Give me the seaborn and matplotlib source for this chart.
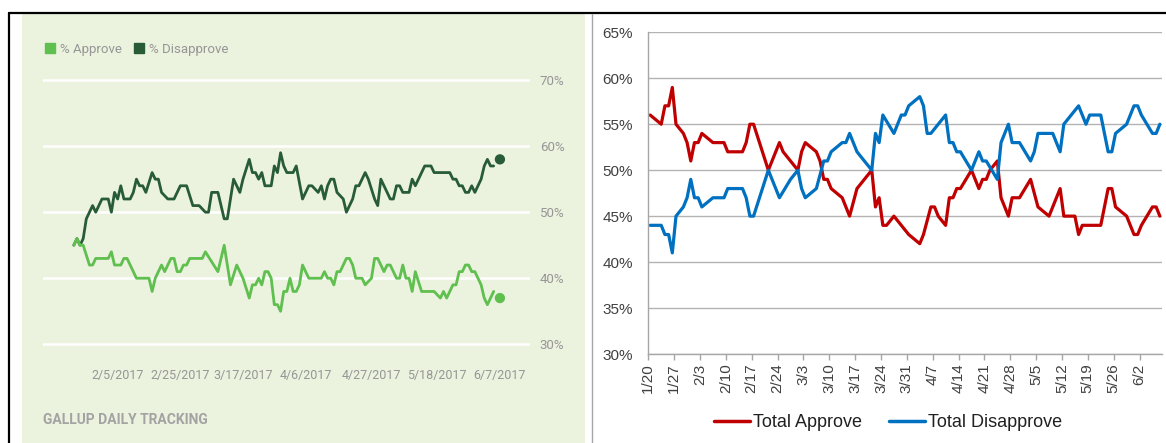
import matplotlib
matplotlib.use("Agg")
import matplotlib.pyplot as plt
from matplotlib import font_manager
from matplotlib.lines import Line2D
from matplotlib.patches import Rectangle
import pandas as pd
import seaborn as sns

# ---- left panel: Gallup daily tracking (days since 1/22/2017) ----
gallup_start = "2017-01-22"
g_approve_day = [0, 1, 2, 3, 5, 6, 7, 11, 12, 13, 15, 16, 17, 20, 24, 25, 26, 28, 29, 31,
                 32, 33, 34, 35, 36, 37, 41, 42, 46, 48, 50, 52, 54, 56, 57, 58, 59, 60, 61, 62,
                 63, 64, 65, 66, 67, 68, 69, 70, 71, 72, 73, 75, 79, 80, 81, 82, 83, 84, 85, 87,
                 88, 89, 90, 92, 93, 95, 96, 97, 99, 100, 101, 103, 104, 105, 106, 107, 108, 109, 111, 115,
                 117, 118, 119, 121, 122, 123, 124, 125, 126, 127, 128, 130, 131, 132, 134]
g_approve = [45, 46, 45, 45, 42, 42, 43, 43, 44, 42, 42, 43, 43, 40, 40, 38, 40, 42, 41, 43,
             43, 41, 41, 42, 42, 43, 43, 44, 41, 45, 39, 42, 40, 37, 39, 39, 40, 39, 41, 41,
             40, 36, 36, 35, 38, 38, 40, 38, 38, 39, 42, 40, 40, 41, 40, 40, 39, 41, 41, 43,
             43, 42, 40, 40, 39, 40, 43, 43, 41, 42, 42, 40, 40, 42, 40, 40, 38, 41, 38, 38,
             37, 38, 37, 39, 39, 41, 41, 42, 42, 41, 41, 39, 37, 36, 38]
g_disapprove_day = [0, 1, 2, 3, 4, 5, 6, 7, 9, 11, 12, 13, 14, 15, 16, 18, 19, 20, 21, 22,
                    23, 25, 26, 27, 28, 30, 32, 34, 36, 38, 40, 42, 43, 44, 46, 47, 48, 49, 51, 53,
                    54, 56, 57, 58, 59, 60, 61, 63, 64, 65, 66, 67, 68, 70, 71, 73, 75, 76, 78, 79,
                    80, 81, 82, 83, 84, 86, 87, 88, 89, 90, 91, 93, 94, 96, 97, 98, 100, 101, 102, 103,
                    104, 105, 107, 108, 109, 110, 112, 114, 115, 120, 121, 122, 123, 124, 125, 126, 127, 128, 130, 131,
                    132, 133, 134]
g_disapprove = [45, 46, 45, 46, 49, 50, 51, 50, 52, 52, 50, 53, 52, 54, 52, 52, 53, 55, 54, 54,
                53, 56, 55, 55, 53, 52, 52, 54, 54, 51, 51, 50, 50, 53, 53, 51, 49, 49, 55, 53,
                55, 58, 56, 56, 55, 56, 54, 54, 57, 56, 59, 57, 56, 56, 57, 52, 54, 54, 53, 54,
                52, 54, 55, 55, 53, 52, 50, 51, 52, 54, 54, 56, 55, 52, 51, 55, 53, 52, 52, 54,
                54, 53, 53, 55, 54, 55, 57, 57, 56, 56, 55, 55, 54, 54, 53, 53, 54, 53, 55, 57,
                58, 57, 57]
g_last_day = 136          # 6/7/2017, shown as a dot
g_last_approve = 37
g_last_disapprove = 58
g_xticks = ["2017-02-05", "2017-02-25", "2017-03-17", "2017-04-06",
            "2017-04-27", "2017-05-18", "2017-06-07"]

# ---- right panel: Total Approve / Disapprove (days since 1/20/2017) ----
r_start = "2017-01-20"
r_approve_day = [0, 3, 4, 5, 6, 7, 9, 10, 11, 12, 13, 14, 17, 20, 21, 25, 26, 27, 28, 32,
                 35, 36, 38, 40, 41, 42, 45, 46, 47, 48, 49, 52, 54, 56, 58, 60, 61, 62, 63, 64,
                 66, 68, 70, 73, 74, 76, 77, 78, 80, 81, 82, 83, 84, 87, 89, 90, 91, 92, 94, 95,
                 97, 98, 100, 103, 105, 108, 111, 112, 115, 116, 117, 122, 124, 125, 126, 129, 131, 132, 133, 136,
                 137, 138]
r_approve = [56, 55, 57, 57, 59, 55, 54, 53, 51, 53, 53, 54, 53, 53, 52, 52, 53, 55, 55, 50,
             53, 52, 51, 50, 52, 53, 52, 51, 49, 49, 48, 47, 45, 48, 49, 50, 46, 47, 44, 44,
             45, 44, 43, 42, 43, 46, 46, 45, 44, 47, 47, 48, 48, 50, 48, 49, 49, 50, 51, 47,
             45, 47, 47, 49, 46, 45, 48, 45, 45, 43, 44, 44, 48, 48, 46, 45, 43, 43, 44, 46,
             46, 45]
r_disapprove_day = [0, 3, 4, 5, 6, 7, 9, 10, 11, 12, 13, 14, 17, 20, 21, 25, 26, 27, 28, 32,
                    35, 38, 40, 41, 42, 45, 47, 48, 49, 52, 53, 54, 56, 60, 61, 62, 63, 66, 68, 69,
                    70, 73, 74, 75, 76, 80, 81, 82, 83, 84, 87, 89, 90, 91, 94, 95, 97, 98, 100, 103,
                    104, 105, 109, 111, 112, 114, 116, 118, 119, 122, 124, 125, 126, 129, 131, 132, 133, 136, 137, 138]
r_disapprove = [44, 44, 43, 43, 41, 45, 46, 47, 49, 47, 47, 46, 47, 47, 48, 48, 47, 45, 45, 50,
                47, 49, 50, 48, 47, 48, 51, 51, 52, 53, 53, 54, 52, 50, 54, 53, 56, 54, 56, 56,
                57, 58, 57, 54, 54, 56, 53, 53, 52, 52, 50, 52, 51, 51, 49, 53, 55, 53, 53, 51,
                52, 54, 54, 52, 55, 56, 57, 55, 56, 56, 52, 52, 54, 55, 57, 57, 56, 54, 54, 55]

W, H = 1166, 443
LIGHT, DARK = "#5fbf4f", "#275c36"
RED, BLUE = "#c00000", "#0070c0"
GRAY_TXT = "#969696"


def box(x0, y0, x1, y1):
    # pixel box with top-left origin -> figure fraction rect
    return [x0 / W, 1 - y1 / H, (x1 - x0) / W, (y1 - y0) / H]


def dated(start, days, vals, col, shift=0.0):
    d = pd.Timestamp(start) + pd.to_timedelta(pd.Series(days) + shift, unit="D")
    return pd.DataFrame({"date": d, col: vals})


sns.set_style("white")
plt.rcParams["font.family"] = ["Liberation Sans", "DejaVu Sans"]

# Gallup uses a condensed face; use a narrow one when it is installed
installed = {f.name for f in font_manager.fontManager.ttflist}
if "Liberation Sans Narrow" in installed:
    NARROW, g_size, leg_size, foot_size = "Liberation Sans Narrow", 10.5, 10, 10.5
else:
    NARROW, g_size, leg_size, foot_size = "Roboto", 9, 9.5, 10

fig = plt.figure(figsize=(W / 100, H / 100), dpi=100)

# page background, frames
bg = fig.add_axes([0, 0, 1, 1])
bg.set_xlim(0, W)
bg.set_ylim(H, 0)
bg.axis("off")
bg.add_patch(Rectangle((22, 14), 563, 430, color="#ebf2de", lw=0))
bg.plot([9, 9], [13, H], color="black", lw=1.6)
bg.plot([9, W], [13, 13], color="black", lw=1.6)
bg.plot([591.5, 591.5], [14, H], color="#a6a6a6", lw=1.0)

# ---------------- left: Gallup ----------------
ax1 = fig.add_axes(box(43.3, 66.9, 530, 357.5))
ax1.set_facecolor("none")
ga = dated(gallup_start, g_approve_day, g_approve, "approve")
gd = dated(gallup_start, g_disapprove_day, g_disapprove, "disapprove")
sns.lineplot(data=gd, x="date", y="disapprove", color=DARK, lw=2.0, ax=ax1)
sns.lineplot(data=ga, x="date", y="approve", color=LIGHT, lw=2.0, ax=ax1)
last = dated(gallup_start, [g_last_day, g_last_day], [g_last_approve, g_last_disapprove], "v")
sns.scatterplot(data=last, x="date", y="v", hue="v", palette=[LIGHT, DARK],
                s=55, linewidth=0, legend=False, ax=ax1)
g0 = pd.Timestamp(gallup_start)
ax1.set_xlim(g0 - pd.Timedelta(days=9.73), g0 + pd.Timedelta(days=145.6))
ax1.set_ylim(28, 72)
ax1.set_yticks([30, 40, 50, 60, 70])
ax1.set_yticklabels([f"{v}%" for v in [30, 40, 50, 60, 70]])
ax1.yaxis.tick_right()
ax1.grid(axis="y", color="white", lw=1.8)
ax1.set_axisbelow(True)
ax1.set_xticks(pd.to_datetime(g_xticks))
ax1.set_xticklabels([f"{t.month}/{t.day}/{t.year}" for t in pd.to_datetime(g_xticks)])
for s in ax1.spines.values():
    s.set_visible(False)
ax1.tick_params(axis="x", direction="in", length=9.5, width=1.8, color="white", pad=8,
                labelsize=g_size, labelcolor=GRAY_TXT)
ax1.tick_params(axis="y", length=0, pad=7, labelsize=9.5, labelcolor=GRAY_TXT)
for lab in ax1.get_xticklabels() + ax1.get_yticklabels():
    lab.set_family(NARROW)
ax1.set_xlabel("")
ax1.set_ylabel("")

g_handles = [Line2D([], [], marker="s", ls="none", color=LIGHT, markersize=7.5),
             Line2D([], [], marker="s", ls="none", color=DARK, markersize=7.5)]
fig.legend(g_handles, ["% Approve", "% Disapprove"], loc="center left",
           bbox_to_anchor=(38 / W, 1 - 49 / H), frameon=False, ncol=2,
           handlelength=0.8, handletextpad=0.35, columnspacing=0.9, borderpad=0,
           prop={"family": NARROW, "size": leg_size}, labelcolor=GRAY_TXT)
fig.text(43 / W, 1 - 420 / H, "GALLUP DAILY TRACKING", ha="left", va="center",
         color="#a3a3a3", fontsize=foot_size, fontweight="bold", family=NARROW)

# ---------------- right: Total Approve / Disapprove ----------------
ax2 = fig.add_axes(box(648.3, 32.3, 1161.7, 354))
ra = dated(r_start, r_approve_day, r_approve, "approve", shift=0.5)
rd = dated(r_start, r_disapprove_day, r_disapprove, "disapprove", shift=0.5)
sns.lineplot(data=ra, x="date", y="approve", color=RED, lw=2.3, ax=ax2)
sns.lineplot(data=rd, x="date", y="disapprove", color=BLUE, lw=2.3, ax=ax2)
r0 = pd.Timestamp(r_start)
ax2.set_xlim(r0, r0 + pd.Timedelta(days=139))
ax2.set_ylim(30, 65)
ax2.set_yticks(range(30, 66, 5))
ax2.set_yticklabels([f"{v}%" for v in range(30, 66, 5)])
r_ticks = pd.date_range(r0, "2017-06-02", freq="7D")
ax2.set_xticks(r_ticks)
ax2.set_xticklabels([f"{t.month}/{t.day}" for t in r_ticks], rotation=90)
ax2.grid(axis="y", color="#b3b3b3", lw=1.0)
ax2.set_axisbelow(True)
for side in ["top", "right"]:
    ax2.spines[side].set_visible(False)
for side in ["left", "bottom"]:
    ax2.spines[side].set_color("#a6a6a6")
    ax2.spines[side].set_linewidth(1.0)
ax2.tick_params(axis="x", direction="out", length=4, width=1, color="#a6a6a6", pad=3,
                labelsize=11, labelcolor="#404040", bottom=True)
ax2.tick_params(axis="y", length=0, pad=11, labelsize=11, labelcolor="#404040")
ax2.set_xlabel("")
ax2.set_ylabel("")

r_handles = [Line2D([], [], color=RED, lw=2.5), Line2D([], [], color=BLUE, lw=2.5)]
fig.legend(r_handles, ["Total Approve", "Total Disapprove"], loc="center",
           bbox_to_anchor=(888 / W, 1 - 422.7 / H), frameon=False, ncol=2,
           fontsize=13, handlelength=2.0, handletextpad=0.15, columnspacing=1.5,
           labelcolor="#202020")

fig.savefig("out.png", dpi=100)
